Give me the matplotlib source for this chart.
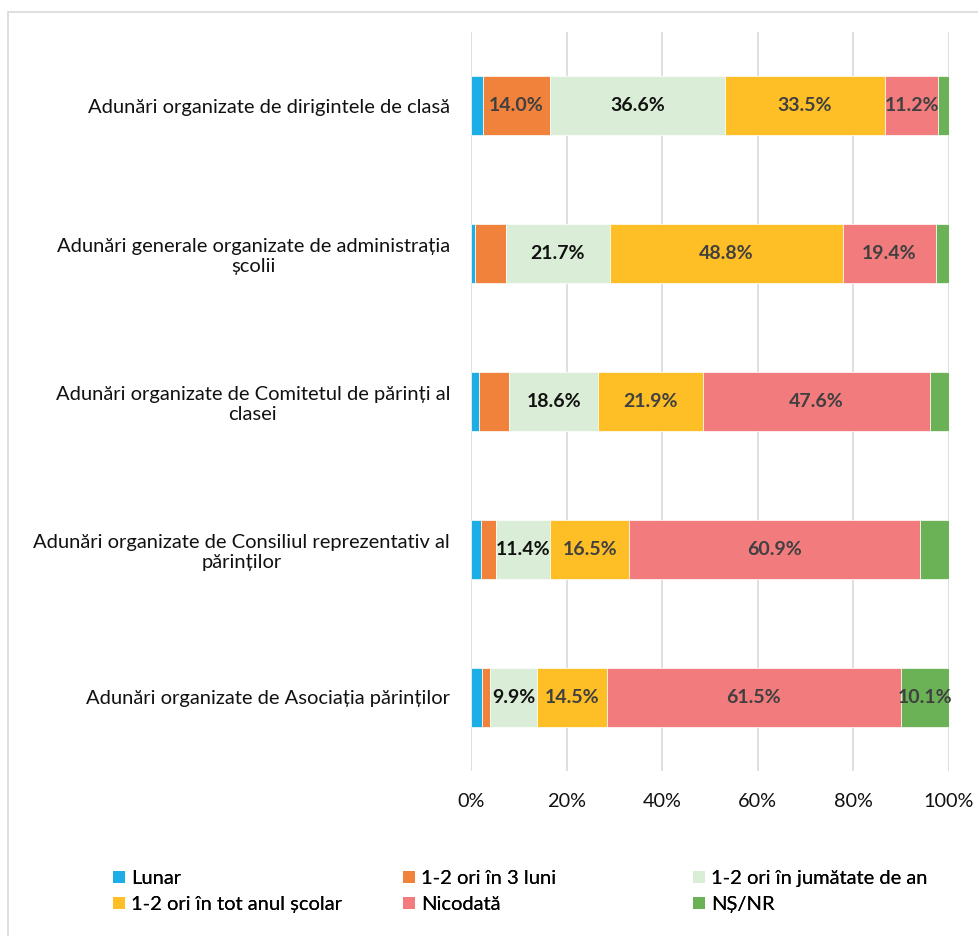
import matplotlib.pyplot as plt
import numpy as np
from matplotlib.patches import Patch, Rectangle

plt.rcParams["font.family"] = ["Lato", "DejaVu Sans"]

categories = [
    "Adunări organizate de dirigintele de clasă",
    "Adunări generale organizate de administrația\nșcolii",
    "Adunări organizate de Comitetul de părinți al\nclasei",
    "Adunări organizate de Consiliul reprezentativ al\npărinților",
    "Adunări organizate de Asociația părinților",
]
series_names = [
    "Lunar",
    "1-2 ori în 3 luni",
    "1-2 ori în jumătate de an",
    "1-2 ori în tot anul școlar",
    "Nicodată",
    "NȘ/NR",
]
lunar = [2.5, 0.8, 1.7, 2.1, 2.2]
trei_luni = [14.0, 6.5, 6.3, 3.1, 1.8]
jumatate_an = [36.6, 21.7, 18.6, 11.4, 9.9]
tot_anul = [33.5, 48.8, 21.9, 16.5, 14.5]
niciodata = [11.2, 19.4, 47.6, 60.9, 61.5]
ns_nr = [2.2, 2.8, 3.9, 6.0, 10.1]
colors = ["#1CAEE4", "#F0823C", "#DAEDD6", "#FEBE26", "#F27B7E", "#6BB155"]
label_colors = ["#404040", "#404040", "#111111", "#404040", "#404040", "#404040"]

series = [lunar, trei_luni, jumatate_an, tot_anul, niciodata, ns_nr]

fig = plt.figure(figsize=(9.79, 9.36), dpi=100)
fig.patches.append(Rectangle((8 / 979, -0.05), 1.2, 1.05 - 12 / 936, transform=fig.transFigure,
                             fill=False, edgecolor="#D9D9D9", linewidth=1.2))
ax = fig.add_axes([471 / 979, 1 - 771 / 936, 478 / 979, 739 / 936])

y = np.arange(len(categories))
left = np.zeros(len(categories))
for vals, name, c, lc in zip(series, series_names, colors, label_colors):
    vals = np.array(vals)
    ax.barh(y, vals, left=left, height=0.4, color=c, edgecolor="white", linewidth=0.5,
            label=name, zorder=3)
    for yi, v, l in zip(y, vals, left):
        if v >= 9:
            ax.text(l + v / 2, yi, f"{v:.1f}%", ha="center", va="center", fontsize=14,
                    fontweight="bold", color=lc, zorder=4)
    left += vals

ax.set_xlim(0, 100)
ax.set_ylim(len(categories) - 0.5, -0.5)
ax.set_xticks(np.arange(0, 101, 20))
ax.set_xticklabels([f"{t}%" for t in range(0, 101, 20)])
ax.set_yticks(y)
ax.set_yticklabels(categories)
for t in ax.get_yticklabels():
    t.set_multialignment("center")
ax.tick_params(axis="y", length=0, pad=15, labelsize=14.5, labelcolor="#111111")
ax.tick_params(axis="x", length=0, pad=16, labelsize=14.3, labelcolor="#111111")
ax.grid(axis="x", color="#D9D9D9", linewidth=1.2, zorder=0)
for s in ax.spines.values():
    s.set_visible(False)

# legend: three columns, filled row by row as in the original
handles = [Patch(facecolor=c, label=n) for c, n in zip(colors, series_names)]
col_x = [113, 403, 693]
for k, x0 in enumerate(col_x):
    idx = [k, k + 3]
    leg = fig.legend([handles[i] for i in idx], [series_names[i] for i in idx],
                     loc="upper left", bbox_to_anchor=(x0 / 979, 1 - 870 / 936), frameon=False,
                     fontsize=14.5, handlelength=0.6, handleheight=0.6, handletextpad=0.3,
                     labelspacing=0.45, borderaxespad=0, borderpad=0)
    fig.add_artist(leg)

fig.savefig("out.png", dpi=100)
